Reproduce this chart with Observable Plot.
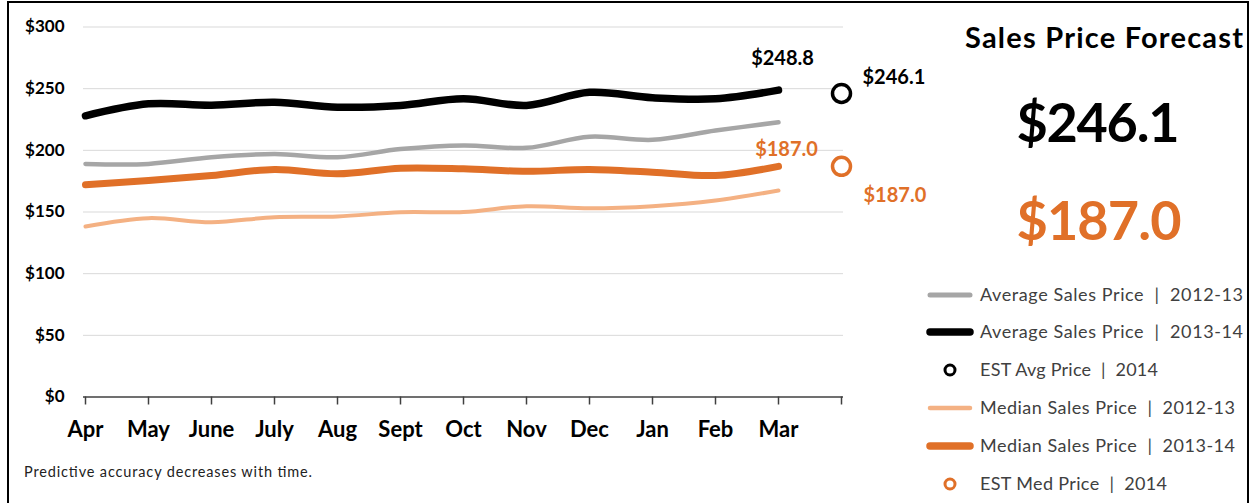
<!DOCTYPE html>
<html>
<head>
<meta charset="utf-8">
<script src="https://cdn.jsdelivr.net/npm/d3@7"></script>
<script src="https://cdn.jsdelivr.net/npm/@observablehq/plot@0.6"></script>
<style>
  html, body { margin: 0; padding: 0; background: #fff; }
  #wrap { position: relative; width: 1254px; height: 503px; overflow: hidden; font-family: Lato, "Open Sans", sans-serif; }
  #chart, #overlay { position: absolute; left: 0; top: 0; }
  #overlay { pointer-events: none; }
</style>
</head>
<body>
<div id="wrap">
  <div id="chart"></div>
  <svg id="overlay" width="1254" height="503"></svg>
</div>
<script>
// ---- data ----
const months = ["Apr","May","June","July","Aug","Sept","Oct","Nov","Dec","Jan","Feb","Mar"];
const estSlot = "";   // 13th, unlabeled category holding the estimates
const avg1213 = [189, 189, 194.4, 197, 194.4, 201, 204, 202, 211, 208.5, 216, 222.8];
const avg1314 = [228, 237.7, 236.6, 239, 235, 236.4, 241.8, 236.4, 247, 242.6, 241.8, 248.8];
const med1213 = [138.2, 145, 141.7, 145.8, 146.4, 149.8, 150, 154.7, 153, 154.7, 159.3, 167.4];
const med1314 = [172, 175.5, 179.6, 184.5, 181, 185.5, 185, 183, 184.5, 182.3, 179.6, 187.0];
const estAvg = 246.1;
const estMed = 187.0;
const yTicks = [0, 50, 100, 150, 200, 250, 300];
const title = "Sales Price Forecast";
const caption = "Predictive accuracy decreases with time.";
const legendLabels = [
  "Average Sales Price  |  2012-13",
  "Average Sales Price  |  2013-14",
  "EST Avg Price  |  2014",
  "Median Sales Price  |  2012-13",
  "Median Sales Price  |  2013-14",
  "EST Med Price  |  2014"
];

// ---- styles ----
const C = { gray: "#a6a6a6", black: "#000000", lightOr: "#f4b183", darkOr: "#e07028", text: "#404040" };

const toRows = arr => arr.map((v, i) => ({ m: months[i], v }));
const lastAvg = { m: months[11], v: avg1314[11] };
const lastMed = { m: months[11], v: med1314[11] };
const estA = { m: estSlot, v: estAvg };
const estM = { m: estSlot, v: estMed };
const fmt = d => "$" + d.v.toFixed(1);

const chart = Plot.plot({
  width: 960,
  height: 503,
  marginLeft: 83,
  marginRight: 117,
  marginTop: 26.5,
  marginBottom: 106.5,
  style: { fontFamily: "Lato, sans-serif", color: "#000", background: "transparent" },
  x: { type: "point", domain: [...months, estSlot], padding: 0 },
  y: { domain: [0, 300] },
  marks: [
    Plot.gridY(yTicks.slice(1), { stroke: "#d9d9d9", strokeOpacity: 1, strokeWidth: 1 }),
    Plot.axisY({ ticks: yTicks, tickSize: 0, tickPadding: 19, tickFormat: d => "$" + d, fontSize: 17, fontWeight: "bold", label: null }),
    Plot.ruleY([0], { stroke: "#404040", strokeWidth: 1.5 }),
    Plot.axisX({ tickSize: 8, tickPadding: 16, fontSize: 22, fontWeight: "bold", label: null, stroke: "#404040", strokeWidth: 1.5 }),
    Plot.line(toRows(med1213), { x: "m", y: "v", stroke: C.lightOr, strokeWidth: 4, curve: "catmull-rom" }),
    Plot.line(toRows(avg1213), { x: "m", y: "v", stroke: C.gray, strokeWidth: 4.5, curve: "catmull-rom" }),
    Plot.line(toRows(med1314), { x: "m", y: "v", stroke: C.darkOr, strokeWidth: 7, curve: "catmull-rom", strokeLinecap: "round" }),
    Plot.line(toRows(avg1314), { x: "m", y: "v", stroke: C.black, strokeWidth: 7.5, curve: "catmull-rom", strokeLinecap: "round" }),
    Plot.dot([estA], { x: "m", y: "v", r: 9, stroke: C.black, strokeWidth: 3.5, fill: "white" }),
    Plot.dot([estM], { x: "m", y: "v", r: 9, stroke: C.darkOr, strokeWidth: 3.5, fill: "white" }),
    Plot.text([lastAvg], { x: "m", y: "v", text: fmt, dx: 4, dy: -32, fontSize: 20, fontWeight: "bold", fill: C.black }),
    Plot.text([estA], { x: "m", y: "v", text: fmt, dx: 21, dy: -16, textAnchor: "start", fontSize: 20, fontWeight: "bold", fill: C.black }),
    Plot.text([lastMed], { x: "m", y: "v", text: fmt, dx: 8, dy: -17, fontSize: 20, fontWeight: "bold", fill: C.darkOr }),
    Plot.text([estM], { x: "m", y: "v", text: fmt, dx: 22, dy: 29, textAnchor: "start", fontSize: 20, fontWeight: "bold", fill: C.darkOr })
  ]
});
document.getElementById("chart").appendChild(chart);

// ---- overlay: frame, forecast panel, legend, caption ----
const svg = d3.select("#overlay");
svg.append("rect").attr("x", 8).attr("y", 2).attr("width", 1240).attr("height", 600)
  .attr("fill", "none").attr("stroke", "#000").attr("stroke-width", 2);

function txt(x, y, s, o) {
  const t = svg.append("text").attr("x", x).attr("y", y).text(s)
    .attr("font-family", "Lato, sans-serif")
    .attr("font-size", o.size).attr("font-weight", o.weight || "normal")
    .attr("fill", o.fill || "#000").attr("text-anchor", o.anchor || "start")
    .style("white-space", "pre");
  if (o.len) t.attr("textLength", o.len).attr("lengthAdjust", "spacing");
  return t;
}

txt(1104, 48, title, { size: 29, weight: "bold", anchor: "middle", len: 278 });
txt(1098, 142, "$" + estAvg.toFixed(1), { size: 54, weight: "bold", anchor: "middle", len: 163 });
txt(1099, 240, "$" + estMed.toFixed(1), { size: 54, weight: "bold", anchor: "middle", fill: C.darkOr, len: 165 });

const legendY = [295, 332, 370, 408, 446, 484];
const legendLen = [263, 263, 178, 255, 255, 187];
const legendSw = [
  { type: "line", color: C.gray, w: 5 },
  { type: "line", color: C.black, w: 7.5 },
  { type: "dot", color: C.black },
  { type: "line", color: C.lightOr, w: 4.5 },
  { type: "line", color: C.darkOr, w: 7.5 },
  { type: "dot", color: C.darkOr }
];
legendLabels.forEach((lab, i) => {
  const y = legendY[i], sw = legendSw[i];
  if (sw.type === "line") {
    svg.append("line").attr("x1", 930).attr("x2", 970).attr("y1", y).attr("y2", y)
      .attr("stroke", sw.color).attr("stroke-width", sw.w).attr("stroke-linecap", "round");
  } else {
    svg.append("circle").attr("cx", 950).attr("cy", y).attr("r", 5)
      .attr("fill", "white").attr("stroke", sw.color).attr("stroke-width", 3);
  }
  txt(980, y + 6, lab, { size: 18, fill: C.text, len: legendLen[i] });
});

txt(24, 477, caption, { size: 14.5, fill: "#222", len: 288 });
</script>
</body>
</html>
